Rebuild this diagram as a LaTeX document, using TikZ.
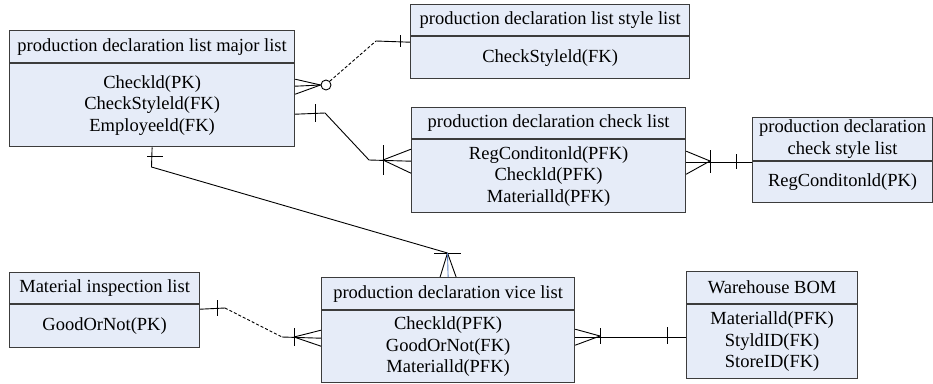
\documentclass[tikz,border=0pt]{standalone}
\usepackage{fontspec}
\setmainfont{Liberation Serif}
\definecolor{boxfill}{RGB}{230,236,248}
\definecolor{boxline}{RGB}{60,60,60}
\definecolor{midblue}{RGB}{91,127,192}
\tikzset{
  ent/.style={draw=boxline, fill=boxfill, line width=1.2pt, anchor=north west,
    inner sep=0pt, align=center, font=\fontsize{18.5}{21.5}\selectfont},
  conn/.style={draw=black, line width=0.9pt},
  dashconn/.style={conn, dash pattern=on 3pt off 2pt},
  optcircle/.style={circle, draw=black, fill=white, line width=0.9pt, inner sep=0pt, minimum size=10pt},
}
\begin{document}
\begin{tikzpicture}[x=1pt,y=-1pt]
\useasboundingbox (0,0) rectangle (933,383);

% ---------- entities ----------
\node[ent, minimum width=285pt, minimum height=32pt] (b1h) at (9,30) {production declaration list major list};
\node[ent, minimum width=285pt, minimum height=83pt] (b1b) at (b1h.south west) {Checkld(PK)\\CheckStyleld(FK)\\Employeeld(FK)};

\node[ent, minimum width=279pt, minimum height=31pt] (b2h) at (410,4) {production declaration list style list};
\node[ent, minimum width=279pt, minimum height=42pt] (b2b) at (b2h.south west) {CheckStyleld(FK)};

\node[ent, minimum width=274pt, minimum height=31pt] (b3h) at (411,107) {production declaration check list};
\node[ent, minimum width=274pt, minimum height=73pt] (b3b) at (b3h.south west) {RegConditonld(PFK)\\Checkld(PFK)\\Materialld(PFK)};

\node[ent, minimum width=180pt, minimum height=43pt] (b4h) at (752,117) {production declaration\\check style list};
\node[ent, minimum width=180pt, minimum height=41pt] (b4b) at (b4h.south west) {RegConditonld(PK)};

\node[ent, minimum width=190pt, minimum height=31pt] (b5h) at (9,272) {Material inspection list};
\node[ent, minimum width=190pt, minimum height=43pt] (b5b) at (b5h.south west) {GoodOrNot(PK)};

\node[ent, minimum width=253pt, minimum height=32pt] (b6h) at (321,277) {production declaration vice list};
\node[ent, minimum width=253pt, minimum height=72pt] (b6b) at (b6h.south west) {Checkld(PFK)\\GoodOrNot(FK)\\Materialld(PFK)};

\node[ent, minimum width=171pt, minimum height=32pt] (b7h) at (686,271) {Warehouse BOM};
\node[ent, minimum width=171pt, minimum height=74pt] (b7b) at (b7h.south west) {Materialld(PFK)\\StyldID(FK)\\StoreID(FK)};

% ---------- A: major list -> style list ----------
\node[optcircle] (aO) at (326,85) {};
\coordinate (aK) at (376,41);
\draw[conn] ([yshift=-16pt]b1b.north east) -- (aO.west);
\draw[conn] ([yshift=-23pt]b1b.north east) -- (aO.west);
\draw[conn] ([yshift=-31pt]b1b.north east) -- (aO.west);
\draw[dashconn] (aO.north east) -- (aK);
\draw[conn] (aK) -- ([yshift=-6pt]b2b.north west);
\draw[conn] (400,35) -- (400,47);

% ---------- B: major list -> check list ----------
\coordinate (bK1) at (325,113);
\coordinate (bK2) at (369,160);
\coordinate (bF) at (383,160);
\draw[conn] ([yshift=-51pt]b1b.north east) -- (bK1) -- (bK2) -- ([yshift=-22pt]b3b.north west);
\draw[conn] (315,104) -- (315,122);
\draw[conn] (bF) -- ([yshift=-10pt]b3b.north west);
\draw[conn] (bF) -- ([yshift=-34pt]b3b.north west);
\draw[conn] (383,145) -- (383,175);

% ---------- C: check list -> check style list ----------
\coordinate (cF) at (710,161);
\draw[conn] ([yshift=-12pt]b3b.north east) -- (cF);
\draw[conn] ([yshift=-35pt]b3b.north east) -- (cF);
\draw[conn] ([yshift=-23pt]b3b.north east) -- ([yshift=-1pt]b4b.north west);
\draw[conn] (710,150) -- (710,173);
\draw[conn] (736,154) -- (736,169);

% ---------- D: major list -> vice list ----------
\coordinate (dK) at (151.5,167);
\coordinate (dF) at (447.5,253);
\draw[conn] (b1b.south) -- (dK) -- (dF);
\draw[conn] (147,156) -- (163,156);
\draw[conn] (434,253) -- (461,253);
\draw[conn] (dF) -- ([xshift=-8pt]b6h.north);
\draw[conn] (dF) -- ([xshift=8pt]b6h.north);
\draw[draw=midblue, line width=0.9pt] (dF) -- (b6h.north);

% ---------- E: material inspection -> vice list ----------
\coordinate (eK1) at (225,308);
\coordinate (eK2) at (282,337);
\coordinate (eF) at (294,337);
\draw[conn] ([yshift=-5pt]b5b.north east) -- (eK1);
\draw[dashconn] (eK1) -- (eK2);
\draw[conn] (eK2) -- ([yshift=-28pt]b6b.north west);
\draw[conn] (217,300) -- (217,316);
\draw[conn] (eF) -- ([yshift=-20pt]b6b.north west);
\draw[conn] (eF) -- ([yshift=-36pt]b6b.north west);
\draw[conn] (294,328) -- (294,346);

% ---------- F: vice list -> warehouse BOM ----------
\coordinate (fF) at (600,336);
\draw[conn] ([yshift=-19pt]b6b.north east) -- (fF);
\draw[conn] ([yshift=-35pt]b6b.north east) -- (fF);
\draw[conn] ([yshift=-27pt]b6b.north east) -- ([yshift=-33pt]b7b.north west);
\draw[conn] (600,328) -- (600,344);
\draw[conn] (667,327) -- (667,344);
\end{tikzpicture}
\end{document}
